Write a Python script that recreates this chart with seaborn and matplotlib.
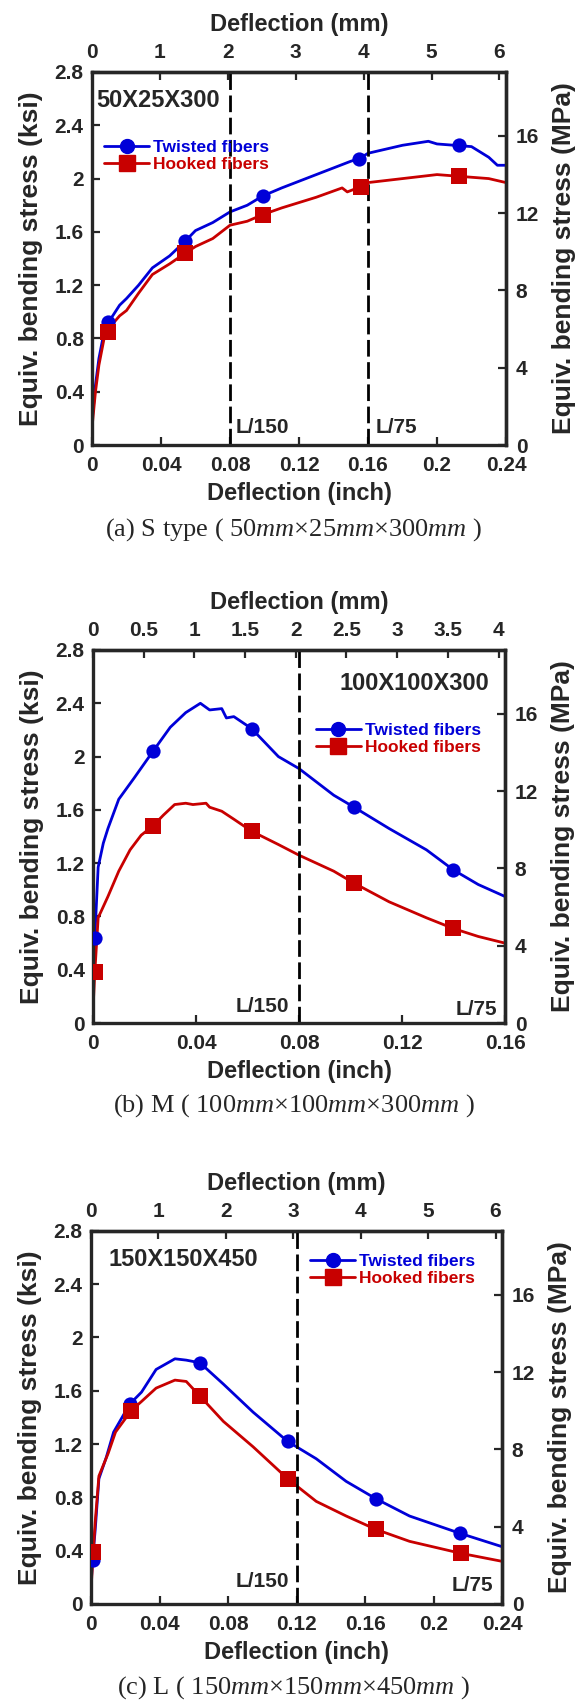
import matplotlib
matplotlib.use("Agg")
import matplotlib.pyplot as plt
import seaborn as sns
from matplotlib.lines import Line2D

# ---------------- data (deflection in inch, stress in ksi) ----------------
# (a) S type 50x25x300
a_tw_x = [0, 0.002, 0.004, 0.007, 0.009, 0.012, 0.016, 0.02, 0.027, 0.035, 0.045, 0.054, 0.06, 0.07,
          0.08, 0.09, 0.099, 0.11, 0.12, 0.13, 0.14, 0.15, 0.155, 0.16, 0.17, 0.18, 0.19, 0.195, 0.2,
          0.21, 0.22, 0.23, 0.235, 0.24]
a_tw_y = [0.18, 0.45, 0.65, 0.85, 0.92, 0.97, 1.05, 1.10, 1.20, 1.33, 1.42, 1.53, 1.61, 1.67,
          1.75, 1.80, 1.87, 1.93, 1.98, 2.03, 2.08, 2.13, 2.15, 2.19, 2.22, 2.25, 2.27, 2.28, 2.26,
          2.25, 2.24, 2.16, 2.10, 2.10]
a_hk_x = [0, 0.002, 0.004, 0.007, 0.009, 0.012, 0.016, 0.02, 0.027, 0.035, 0.045, 0.054, 0.06, 0.07,
          0.08, 0.09, 0.099, 0.11, 0.12, 0.13, 0.145, 0.148, 0.156, 0.16, 0.18, 0.2, 0.21, 0.22, 0.23, 0.24]
a_hk_y = [0.13, 0.40, 0.60, 0.80, 0.85, 0.91, 0.97, 1.01, 1.14, 1.28, 1.36, 1.44, 1.49, 1.55,
          1.65, 1.68, 1.73, 1.78, 1.82, 1.86, 1.93, 1.90, 1.94, 1.97, 2.00, 2.03, 2.02, 2.01, 2.00, 1.97]
a_tw_mx = [0.009, 0.054, 0.099, 0.155, 0.2126]
a_tw_my = [0.92, 1.53, 1.87, 2.15, 2.25]
a_hk_mx = [0.009, 0.054, 0.099, 0.156, 0.2126]
a_hk_my = [0.85, 1.44, 1.73, 1.94, 2.02]

# (b) M 100x100x300
b_tw_x = [0, 0.0007, 0.002, 0.004, 0.0058, 0.010, 0.016, 0.0233, 0.030, 0.036, 0.0417, 0.0453, 0.050,
          0.0518, 0.0547, 0.0616, 0.072, 0.080, 0.0935, 0.1014, 0.115, 0.1295, 0.1399, 0.1496, 0.16]
b_tw_y = [0.22, 0.64, 1.17, 1.35, 1.46, 1.68, 1.84, 2.04, 2.22, 2.33, 2.40, 2.35, 2.36,
          2.29, 2.30, 2.21, 2.00, 1.91, 1.71, 1.62, 1.46, 1.30, 1.15, 1.04, 0.95]
b_hk_x = [0, 0.0007, 0.002, 0.0058, 0.010, 0.0144, 0.0187, 0.0233, 0.0273, 0.0317, 0.036, 0.0388, 0.0439,
          0.0453, 0.050, 0.0547, 0.0616, 0.072, 0.080, 0.0935, 0.1014, 0.115, 0.1295, 0.1399, 0.1496, 0.16]
b_hk_y = [0.10, 0.38, 0.79, 0.95, 1.14, 1.30, 1.41, 1.48, 1.56, 1.64, 1.65, 1.64, 1.65,
          1.62, 1.59, 1.53, 1.44, 1.34, 1.26, 1.14, 1.05, 0.91, 0.79, 0.71, 0.65, 0.60]
b_tw_mx = [0.0007, 0.0233, 0.0616, 0.1014, 0.1399]
b_tw_my = [0.64, 2.04, 2.21, 1.62, 1.15]
b_hk_mx = [0.0007, 0.0233, 0.0616, 0.1014, 0.1399]
b_hk_my = [0.38, 1.48, 1.44, 1.05, 0.71]

# (c) L 150x150x450
c_tw_x = [0, 0.0009, 0.0024, 0.0046, 0.0089, 0.0132, 0.0226, 0.0295, 0.038, 0.049, 0.0556, 0.0636,
          0.0773, 0.0946, 0.1148, 0.1315, 0.149, 0.1663, 0.186, 0.2155, 0.24]
c_tw_y = [0.14, 0.33, 0.55, 0.94, 1.10, 1.29, 1.50, 1.59, 1.76, 1.84, 1.83, 1.81,
          1.65, 1.44, 1.22, 1.09, 0.92, 0.79, 0.66, 0.53, 0.43]
c_hk_x = [0, 0.0013, 0.0024, 0.0046, 0.010, 0.0143, 0.0234, 0.0295, 0.038, 0.049, 0.0556, 0.0636,
          0.0773, 0.0946, 0.1148, 0.1315, 0.149, 0.1663, 0.186, 0.216, 0.24]
c_hk_y = [0.11, 0.39, 0.61, 0.96, 1.13, 1.29, 1.45, 1.52, 1.62, 1.68, 1.67, 1.56,
          1.37, 1.18, 0.94, 0.77, 0.66, 0.56, 0.47, 0.38, 0.32]
c_tw_mx = [0.0009, 0.0226, 0.0636, 0.1148, 0.1663, 0.2155]
c_tw_my = [0.33, 1.50, 1.81, 1.22, 0.79, 0.53]
c_hk_mx = [0.0013, 0.0234, 0.0636, 0.1148, 0.1663, 0.216]
c_hk_my = [0.39, 1.45, 1.56, 0.94, 0.56, 0.38]

series_names = ["Twisted fibers", "Hooked fibers"]
captions = [r"(a) S type ( $50\mathit{mm}{\times}25\mathit{mm}{\times}300\mathit{mm}$ )",
            r"(b) M ( $100\mathit{mm}{\times}100\mathit{mm}{\times}300\mathit{mm}$ )",
            r"(c) L ( $150\mathit{mm}{\times}150\mathit{mm}{\times}450\mathit{mm}$ )"]

BLUE = "#0000d8"
RED = "#c80000"

sns.set_style("ticks")
plt.rcParams["font.family"] = ["Liberation Sans", "DejaVu Sans"]
plt.rcParams["mathtext.fontset"] = "custom"
plt.rcParams["mathtext.rm"] = "Liberation Serif:weight=normal"
plt.rcParams["mathtext.it"] = "Liberation Serif:style=italic:weight=normal"

fig = plt.figure(figsize=(5.82, 17.02), dpi=100)

TICK_FS = 15
XLAB_FS = 17
YLAB_FS = 19


def bold_ticks(axis_obj):
    for lab in axis_obj.get_ticklabels():
        lab.set_fontweight("bold")


def make_panel(rect, xmax, xstep, mm_ticks, curves, marks, vlines, texts, leg_anchor, caption, cap_y):
    ax = fig.add_axes(rect)
    (tx, ty), (hx, hy) = curves
    (tmx, tmy), (hmx, hmy) = marks
    sns.lineplot(x=tx, y=ty, color=BLUE, lw=2.0, estimator=None, sort=False, ax=ax)
    sns.lineplot(x=hx, y=hy, color=RED, lw=2.0, estimator=None, sort=False, ax=ax)
    sns.scatterplot(x=tmx, y=tmy, color=BLUE, marker="o", s=105, linewidth=0, ax=ax, zorder=5)
    sns.scatterplot(x=hmx, y=hmy, color=RED, marker="s", s=120, linewidth=0, ax=ax, zorder=5)
    for v in vlines:
        ax.axvline(v, color="black", lw=2.0, ls=(0, (6, 2)))
    for (x, y, s, ha, fs) in texts:
        ax.text(x, y, s, ha=ha, va="baseline", fontsize=fs, fontweight="bold")

    ax.set_xlim(0, xmax)
    ax.set_ylim(0, 2.8)
    xt = [round(i * xstep, 3) for i in range(int(round(xmax / xstep)) + 1)]
    ax.set_xticks(xt)
    ax.set_xticklabels([f"{v:g}" for v in xt])
    yt = [round(i * 0.4, 1) for i in range(8)]
    ax.set_yticks(yt)
    ax.set_yticklabels([f"{v:g}" for v in yt])
    ax.set_xlabel("Deflection (inch)", fontsize=XLAB_FS, fontweight="bold", labelpad=5)
    ax.set_ylabel("Equiv. bending stress (ksi)", fontsize=YLAB_FS, fontweight="bold", labelpad=8)
    ax.tick_params(direction="in", length=6, width=1.6, labelsize=TICK_FS)
    ax.tick_params(axis="x", pad=8)
    ax.tick_params(axis="y", pad=6)
    bold_ticks(ax.xaxis)
    bold_ticks(ax.yaxis)
    for sp in ax.spines.values():
        sp.set_linewidth(2.4)

    top = ax.secondary_xaxis("top", functions=(lambda v: v * 25.4, lambda v: v / 25.4))
    top.set_xticks(mm_ticks)
    top.set_xticklabels([f"{v:g}" for v in mm_ticks], fontweight="bold")
    top.set_xlabel("Deflection (mm)", fontsize=XLAB_FS, fontweight="bold", labelpad=9)
    top.tick_params(direction="in", length=6, width=1.6, labelsize=TICK_FS, pad=7)
    top.spines["top"].set_linewidth(2.4)

    right = ax.secondary_yaxis("right", functions=(lambda v: v * 6.895, lambda v: v / 6.895))
    right.set_yticks([0, 4, 8, 12, 16])
    right.set_yticklabels(["0", "4", "8", "12", "16"], fontweight="bold")
    right.set_ylabel("Equiv. bending stress (MPa)", fontsize=YLAB_FS, fontweight="bold", labelpad=9)
    right.tick_params(direction="in", length=6, width=1.6, labelsize=TICK_FS, pad=7)
    right.spines["right"].set_linewidth(2.4)

    handles = [Line2D([], [], color=BLUE, lw=2.0, marker="o", markersize=10),
               Line2D([], [], color=RED, lw=2.0, marker="s", markersize=11)]
    leg = ax.legend(handles, series_names, loc="center left", bbox_to_anchor=leg_anchor,
                    frameon=False, fontsize=12.5, handlelength=2.6, handletextpad=0.2,
                    labelspacing=0.1, borderpad=0, borderaxespad=0)
    for t, c in zip(leg.get_texts(), [BLUE, RED]):
        t.set_color(c)
        t.set_fontweight("bold")

    fig.text(0.505, cap_y, caption, ha="center", va="center", fontsize=19,
             family=["Liberation Serif", "DejaVu Serif"], fontweight="normal")
    return ax


make_panel([0.1581, 0.7385, 0.7113, 0.2192], 0.24, 0.04, [0, 1, 2, 3, 4, 5, 6],
           [(a_tw_x, a_tw_y), (a_hk_x, a_hk_y)], [(a_tw_mx, a_tw_my), (a_hk_mx, a_hk_my)],
           [0.08, 0.16],
           [(0.0023, 2.54, "50X25X300", "left", 17), (0.0834, 0.088, "L/150", "left", 15),
            (0.1646, 0.088, "L/75", "left", 15)],
           (0.029, 0.776), captions[0], 0.6886)

make_panel([0.1598, 0.3989, 0.7079, 0.2192], 0.16, 0.04, [0, 0.5, 1, 1.5, 2, 2.5, 3, 3.5, 4],
           [(b_tw_x, b_tw_y), (b_hk_x, b_hk_y)], [(b_tw_mx, b_tw_my), (b_hk_mx, b_hk_my)],
           [0.08],
           [(0.1538, 2.50, "100X100X300", "right", 17), (0.0762, 0.085, "L/150", "right", 15),
            (0.1568, 0.06, "L/75", "right", 15)],
           (0.541, 0.761), captions[1], 0.3505)

make_panel([0.1564, 0.0576, 0.7062, 0.2192], 0.24, 0.04, [0, 1, 2, 3, 4, 5, 6],
           [(c_tw_x, c_tw_y), (c_hk_x, c_hk_y)], [(c_tw_mx, c_tw_my), (c_hk_mx, c_hk_my)],
           [0.12],
           [(0.0104, 2.54, "150X150X450", "left", 17), (0.1159, 0.129, "L/150", "right", 15),
            (0.2346, 0.101, "L/75", "right", 15)],
           (0.533, 0.896), captions[2], 0.0085)

fig.savefig("out.png", dpi=100)
